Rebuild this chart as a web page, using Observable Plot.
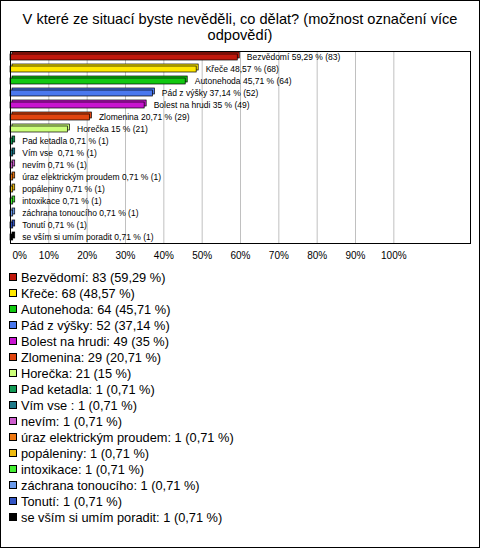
<!DOCTYPE html>
<html>
<head>
<meta charset="utf-8">
<script src="https://cdn.jsdelivr.net/npm/d3@7"></script>
<script src="https://cdn.jsdelivr.net/npm/@observablehq/plot@0.6"></script>
<style>
  html, body { margin: 0; padding: 0; background: #fff; }
  #root { position: relative; width: 480px; height: 548px; background: #fff; overflow: hidden;
          font-family: "Liberation Sans", Arial, sans-serif; }
  #border { position: absolute; left: 0; top: 0; width: 480px; height: 548px; box-sizing: border-box;
            border: 1px solid #000; pointer-events: none; }
  #title { position: absolute; left: 0; top: 11px; width: 480px; text-align: center;
           font-size: 14.6px; line-height: 16px; color: #000; }
  #chart { position: absolute; left: 0; top: 45px; }
  #legend { position: absolute; left: 9px; top: 269px; }
  .row { height: 16px; display: flex; align-items: center; font-size: 12.8px; color: #000; white-space: pre; }
  .sw { width: 8px; height: 8px; box-sizing: border-box; border: 1px solid #000; margin-right: 4px; flex: none; }
</style>
</head>
<body>
<div id="root">
  <div id="title">V které ze situací byste nevěděli, co dělat? (možnost označení více<br>odpovědí)</div>
  <div id="chart"></div>
  <div id="legend"></div>
  <div id="border"></div>
</div>
<script>
const names = ["Bezvědomí", "Křeče", "Autonehoda", "Pád z výšky", "Bolest na hrudi", "Zlomenina", "Horečka",
  "Pad ketadla", "Vím vse ", "nevím", "úraz elektrickým proudem", "popáleniny", "intoxikace",
  "záchrana tonoucího", "Tonutí", "se vším si umím poradit"];
const counts = [83, 68, 64, 52, 49, 29, 21, 1, 1, 1, 1, 1, 1, 1, 1, 1];
const pcts = [59.29, 48.57, 45.71, 37.14, 35, 20.71, 15, 0.71, 0.71, 0.71, 0.71, 0.71, 0.71, 0.71, 0.71, 0.71];
const colors = ["#c0180c", "#ffe800", "#11c811", "#4a78ee", "#c814d0", "#e0440e", "#ccff7a", "#119955",
  "#1f7a8a", "#cc5ccc", "#ee7711", "#eebb11", "#44ee33", "#6b9aea", "#3355c4", "#000000"];
const tickValues = [10, 20, 30, 40, 50, 60, 70, 80, 90, 100];

const fmt = v => String(v).replace(".", ",");
const data = names.map((n, i) => ({name: n, pct: pcts[i], count: counts[i], color: colors[i]}));

const barOpts = {x: "pct", y: "name", fill: "color", stroke: "#000", strokeWidth: 0.7, insetTop: 3, insetBottom: 3};

const chart = Plot.plot({
  width: 480,
  height: 222,
  marginLeft: 10,
  marginRight: 10,
  marginTop: 6,
  marginBottom: 24,
  style: {fontFamily: "'Liberation Sans', Arial, sans-serif", background: "transparent"},
  x: {domain: [0, 120], axis: null, label: null},
  y: {domain: names, axis: null, padding: 0, label: null},
  color: {type: "identity"},
  marks: [
    Plot.ruleX(tickValues, {stroke: "#c0c0c0", strokeWidth: 1}),
    Plot.barX(data, {...barOpts, dx: 2, dy: -2}),
    Plot.barX(data, barOpts),
    Plot.text(data, {x: "pct", y: "name",
      text: d => `${d.name.replace(/\s+$/, "\u00a0")} ${fmt(d.pct)} % (${d.count})`,
      textAnchor: "start", dx: 9, fontSize: 8.5, fill: "#000"}),
    Plot.frame({stroke: "#000", strokeWidth: 1}),
    Plot.axisX([0], {tickSize: 0, tickPadding: 8, tickFormat: d => d + "%", fontSize: 10, textAnchor: "start", dx: 2, label: null}),
    Plot.axisX(tickValues, {tickSize: 0, tickPadding: 8, tickFormat: d => d + "%", fontSize: 10, label: null})
  ]
});
document.getElementById("chart").appendChild(chart);

const legend = document.getElementById("legend");
data.forEach(d => {
  const row = document.createElement("div");
  row.className = "row";
  const sw = document.createElement("span");
  sw.className = "sw";
  sw.style.background = d.color;
  row.appendChild(sw);
  const t = document.createElement("span");
  t.textContent = `${d.name}: ${d.count} (${fmt(d.pct)} %)`;
  row.appendChild(t);
  legend.appendChild(row);
});
</script>
</body>
</html>
